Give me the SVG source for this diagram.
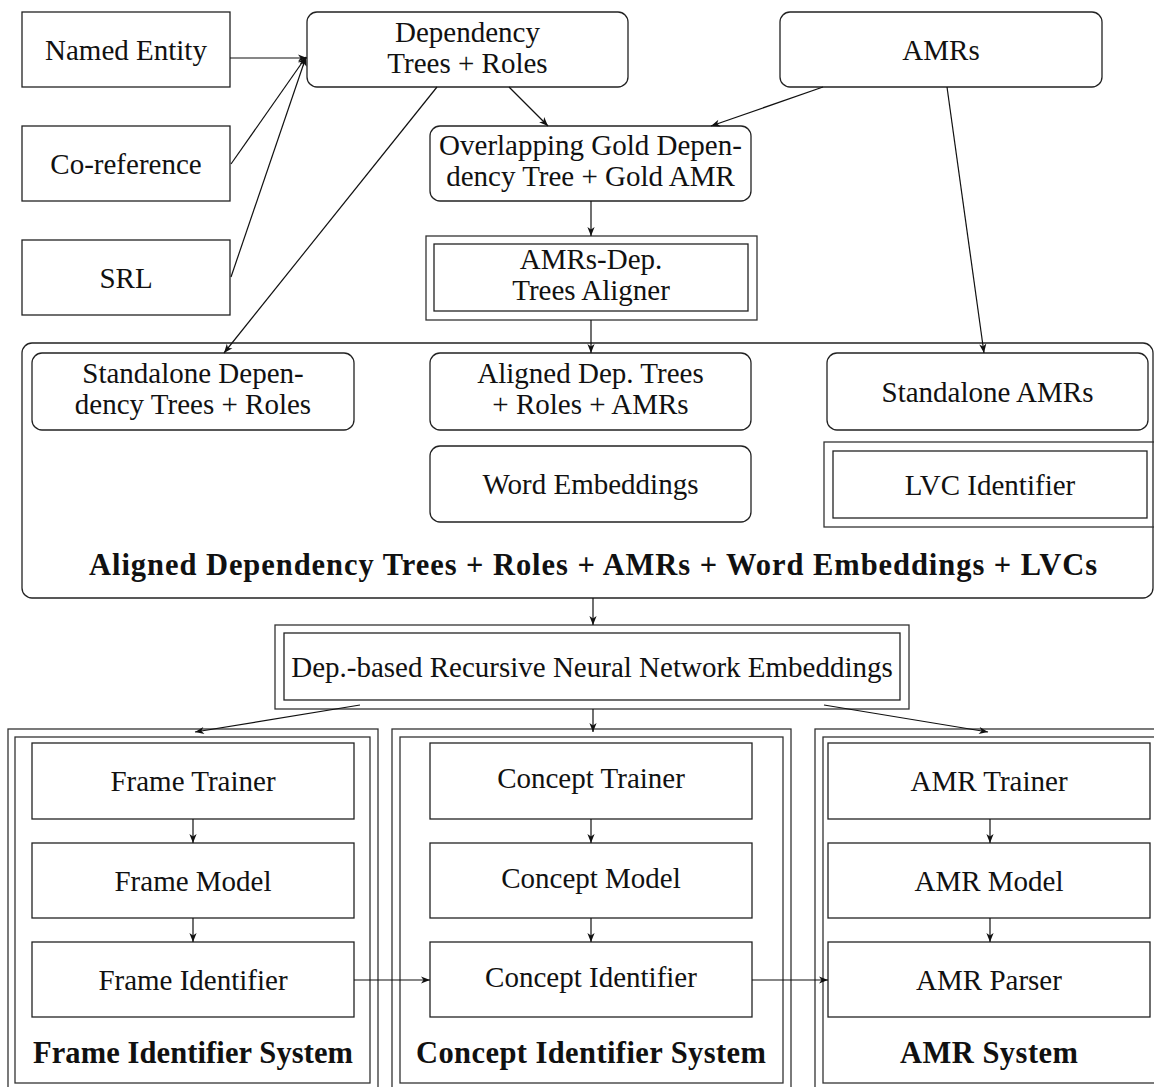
<svg xmlns="http://www.w3.org/2000/svg" width="1154" height="1087" viewBox="0 0 1154 1087">
  <style>
    .box { fill: #fff; stroke: #222; stroke-width: 1.3; }
    .frame { fill: none; stroke: #333; stroke-width: 1.3; }
    .lbl { font-family: "Liberation Serif", "DejaVu Serif", serif; font-size: 29px; fill: #111; text-anchor: middle; }
    .bold { font-weight: bold; font-size: 30.5px; }
    .conn line { stroke: #111; stroke-width: 1.2; fill: none; marker-end: url(#arr); }
  </style>
  <defs>
    <marker id="arr" markerUnits="userSpaceOnUse" markerWidth="12" markerHeight="10" viewBox="-10 -5 12 10" refX="0" refY="0" orient="auto">
      <path d="M0,0 L-9,-3.6 L-6.5,0 L-9,3.6 Z" fill="#111"/>
    </marker>
  </defs>
  <rect width="1154" height="1087" fill="#fff"/>

  <!-- input sources -->
  <g id="named-entity">
    <rect class="box" x="22" y="12" width="208" height="75"/>
    <text class="lbl" x="126" y="59.5">Named Entity</text>
  </g>
  <g id="co-reference">
    <rect class="box" x="22" y="126" width="208" height="75"/>
    <text class="lbl" x="126" y="173.5">Co-reference</text>
  </g>
  <g id="srl">
    <rect class="box" x="22" y="240" width="208" height="75"/>
    <text class="lbl" x="126" y="287.5">SRL</text>
  </g>
  <g id="dep-trees">
    <rect class="box" x="307" y="12" width="321" height="75" rx="10"/>
    <text class="lbl" x="467.5" y="42">Dependency</text>
    <text class="lbl" x="467.5" y="73">Trees + Roles</text>
  </g>
  <g id="amrs">
    <rect class="box" x="780" y="12" width="322" height="75" rx="10"/>
    <text class="lbl" x="941" y="59.5">AMRs</text>
  </g>
  <g id="overlap">
    <rect class="box" x="430" y="126" width="321" height="75" rx="10"/>
    <text class="lbl" x="590.5" y="155">Overlapping Gold Depen-</text>
    <text class="lbl" x="590.5" y="186">dency Tree + Gold AMR</text>
  </g>
  <g id="aligner">
    <rect class="frame" x="426" y="236" width="331" height="84"/>
    <rect class="box" x="434" y="244" width="314" height="67"/>
    <text class="lbl" x="591" y="269">AMRs-Dep.</text>
    <text class="lbl" x="591" y="300">Trees Aligner</text>
  </g>

  <!-- combined resources -->
  <g id="resources">
    <rect class="box" x="22" y="343" width="1131" height="255" rx="10"/>
    <text class="lbl bold" x="593" y="575" textLength="1008" lengthAdjust="spacing">Aligned Dependency Trees + Roles + AMRs + Word Embeddings + LVCs</text>
  </g>
  <g id="standalone-dep">
    <rect class="box" x="32" y="353" width="322" height="77" rx="10"/>
    <text class="lbl" x="193" y="383">Standalone Depen-</text>
    <text class="lbl" x="193" y="414">dency Trees + Roles</text>
  </g>
  <g id="aligned">
    <rect class="box" x="430" y="353" width="321" height="77" rx="10"/>
    <text class="lbl" x="590.5" y="383">Aligned Dep. Trees</text>
    <text class="lbl" x="590.5" y="414">+ Roles + AMRs</text>
  </g>
  <g id="word-emb">
    <rect class="box" x="430" y="446" width="321" height="76" rx="10"/>
    <text class="lbl" x="590.5" y="494">Word Embeddings</text>
  </g>
  <g id="standalone-amrs">
    <rect class="box" x="827" y="353" width="321" height="77" rx="10"/>
    <text class="lbl" x="987.5" y="401.5">Standalone AMRs</text>
  </g>
  <g id="lvc">
    <rect class="frame" x="824" y="442" width="334" height="85"/>
    <rect class="box" x="833" y="451" width="314" height="67"/>
    <text class="lbl" x="990" y="494.5">LVC Identifier</text>
  </g>

  <g id="rnn">
    <rect class="frame" x="275" y="625" width="634" height="84"/>
    <rect class="box" x="284" y="633" width="616" height="67"/>
    <text class="lbl" x="592" y="677">Dep.-based Recursive Neural Network Embeddings</text>
  </g>

  <!-- frame identifier system -->
  <g id="frame-system">
    <rect class="frame" x="8" y="729" width="370" height="364"/>
    <rect class="frame" x="15" y="737" width="355" height="346"/>
    <text class="lbl bold" x="193" y="1063" textLength="320" lengthAdjust="spacing">Frame Identifier System</text>
  </g>
  <g id="frame-trainer">
    <rect class="box" x="32" y="743" width="322" height="76"/>
    <text class="lbl" x="193" y="791">Frame Trainer</text>
  </g>
  <g id="frame-model">
    <rect class="box" x="32" y="843" width="322" height="75"/>
    <text class="lbl" x="193" y="890.5">Frame Model</text>
  </g>
  <g id="frame-identifier">
    <rect class="box" x="32" y="942" width="322" height="75"/>
    <text class="lbl" x="193" y="989.5">Frame Identifier</text>
  </g>

  <!-- concept identifier system -->
  <g id="concept-system">
    <rect class="frame" x="392" y="729" width="399" height="364"/>
    <rect class="frame" x="400" y="737" width="383" height="346"/>
    <text class="lbl bold" x="591" y="1063" textLength="350" lengthAdjust="spacing">Concept Identifier System</text>
  </g>
  <g id="concept-trainer">
    <rect class="box" x="430" y="743" width="322" height="76"/>
    <text class="lbl" x="591" y="788">Concept Trainer</text>
  </g>
  <g id="concept-model">
    <rect class="box" x="430" y="843" width="322" height="75"/>
    <text class="lbl" x="591" y="887.5">Concept Model</text>
  </g>
  <g id="concept-identifier">
    <rect class="box" x="430" y="942" width="322" height="75"/>
    <text class="lbl" x="591" y="986.5">Concept Identifier</text>
  </g>

  <!-- AMR system -->
  <g id="amr-system">
    <rect class="frame" x="815" y="729" width="360" height="364"/>
    <rect class="frame" x="823" y="737" width="344" height="346"/>
    <text class="lbl bold" x="989" y="1063" textLength="178" lengthAdjust="spacing">AMR System</text>
  </g>
  <g id="amr-trainer">
    <rect class="box" x="828" y="743" width="322" height="76"/>
    <text class="lbl" x="989" y="791">AMR Trainer</text>
  </g>
  <g id="amr-model">
    <rect class="box" x="828" y="843" width="322" height="75"/>
    <text class="lbl" x="989" y="890.5">AMR Model</text>
  </g>
  <g id="amr-parser">
    <rect class="box" x="828" y="942" width="322" height="75"/>
    <text class="lbl" x="989" y="989.5">AMR Parser</text>
  </g>

  <!-- connectors -->
  <g id="connectors" class="conn">
    <line x1="230" y1="58" x2="307" y2="58"/>
    <line x1="231" y1="164" x2="306" y2="57"/>
    <line x1="231" y1="277" x2="306" y2="57"/>
    <line x1="509" y1="87" x2="548" y2="126"/>
    <line x1="823" y1="87" x2="711" y2="126"/>
    <line x1="591" y1="201" x2="591" y2="236"/>
    <line x1="437" y1="87" x2="224" y2="353"/>
    <line x1="947" y1="87" x2="984" y2="353"/>
    <line x1="591" y1="320" x2="591" y2="353"/>
    <line x1="593" y1="598" x2="593" y2="625"/>
    <line x1="360" y1="705" x2="195" y2="732"/>
    <line x1="593" y1="709" x2="593" y2="732"/>
    <line x1="824" y1="705" x2="988" y2="732"/>
    <line x1="193" y1="819" x2="193" y2="843"/>
    <line x1="193" y1="918" x2="193" y2="942"/>
    <line x1="591" y1="819" x2="591" y2="843"/>
    <line x1="591" y1="918" x2="591" y2="942"/>
    <line x1="990" y1="819" x2="990" y2="843"/>
    <line x1="990" y1="918" x2="990" y2="942"/>
    <line x1="354" y1="980" x2="430" y2="980"/>
    <line x1="752" y1="980" x2="828" y2="980"/>
  </g>
</svg>
